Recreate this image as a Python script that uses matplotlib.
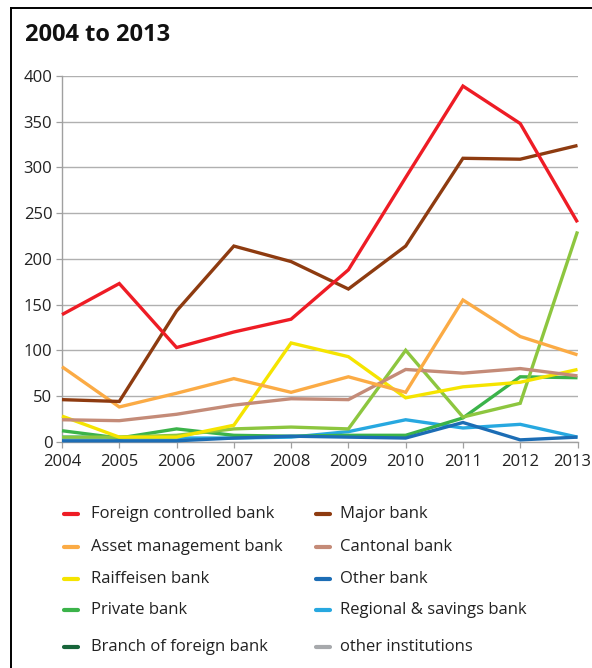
import matplotlib
matplotlib.use("Agg")
import matplotlib.pyplot as plt
import matplotlib.transforms as mtransforms
from matplotlib.lines import Line2D

years = [2004, 2005, 2006, 2007, 2008, 2009, 2010, 2011, 2012, 2013]

foreign_controlled = [139, 173, 103, 120, 134, 188, 289, 389, 348, 240]
major = [46, 44, 143, 214, 197, 167, 214, 310, 309, 324]
asset_management = [82, 38, 53, 69, 54, 71, 54, 155, 115, 95]
cantonal = [24, 23, 30, 40, 47, 46, 79, 75, 80, 72]
raiffeisen = [28, 5, 5, 18, 108, 93, 48, 60, 65, 79]
other_bank = [1, 1, 1, 4, 6, 5, 4, 21, 2, 5]
private = [12, 4, 14, 7, 6, 7, 7, 26, 71, 70]
regional_savings = [5, 5, 4, 4, 5, 11, 24, 15, 19, 5]
branch_foreign = [None] * 10
other_institutions = [None] * 10
further_series = [5, 5, 7, 14, 16, 14, 100, 27, 42, 230]

y_ticks = [0, 50, 100, 150, 200, 250, 300, 350, 400]

series = [
    ("other institutions", other_institutions, "#a7a9ac"),
    ("Branch of foreign bank", branch_foreign, "#17653a"),
    ("Regional & savings bank", regional_savings, "#27a8e0"),
    ("Private bank", private, "#3bb34a"),
    ("Other bank", other_bank, "#1c6db5"),
    ("_further", further_series, "#8dc63f"),
    ("Raiffeisen bank", raiffeisen, "#f5e400"),
    ("Cantonal bank", cantonal, "#c48b78"),
    ("Asset management bank", asset_management, "#fbab45"),
    ("Major bank", major, "#8e3b10"),
    ("Foreign controlled bank", foreign_controlled, "#ee1c25"),
]

plt.rcParams["font.family"] = ["Open Sans", "DejaVu Sans"]

fig = plt.figure(figsize=(5.92, 6.68), dpi=100)
ax = fig.add_axes([62 / 592, 1 - 441.7 / 668, (577.5 - 62) / 592, (441.7 - 76) / 668])

colors = {}
for i, (name, vals, col) in enumerate(series):
    clean = [float("nan") if v is None else v for v in vals]
    ax.plot(years, clean, color=col, lw=2.4, solid_joinstyle="miter",
            solid_capstyle="butt", zorder=3 + i, clip_on=False)
    colors[name] = col

ax.set_xlim(2004, 2013)
ax.set_ylim(0, 400)
ax.set_xticks(years)
ax.set_yticks(y_ticks)
ax.tick_params(axis="both", labelsize=12, colors="#222222", length=4,
               width=0.9, pad=3)
ax.tick_params(axis="x", pad=5)
for lbl in ax.get_xticklabels() + ax.get_yticklabels():
    lbl.set_color("#222222")
ax.tick_params(axis="both", color="#a0a0a0")
ax.grid(axis="y", color="#b0b0b0", lw=1.0, zorder=1)
ax.set_axisbelow(True)
for side in ("top", "right"):
    ax.spines[side].set_visible(False)
for side in ("left", "bottom"):
    ax.spines[side].set_color("#a0a0a0")
    ax.spines[side].set_linewidth(1.0)

# keep the last year label inside the figure edge
last = ax.get_xticklabels()[-1]
last.set_transform(last.get_transform() +
                   mtransforms.ScaledTranslation(-5 / 100, 0, fig.dpi_scale_trans))

# Outer frame (left and top edges)
fig.add_artist(Line2D([11 / 592, 11 / 592], [0, 1 - 8 / 668], color="black",
                      lw=1.4, transform=fig.transFigure))
fig.add_artist(Line2D([11 / 592, 1], [1 - 8 / 668, 1 - 8 / 668], color="black",
                      lw=1.4, transform=fig.transFigure))

fig.text(25 / 592, 1 - 35 / 668, "2004 to 2013", fontsize=17, fontweight="bold",
         va="center", ha="left", color="#111111")

# Legend, two columns
col1 = ["Foreign controlled bank", "Asset management bank", "Raiffeisen bank",
        "Private bank", "Branch of foreign bank"]
col2 = ["Major bank", "Cantonal bank", "Other bank", "Regional & savings bank",
        "other institutions"]
rows_y = [514, 547, 579, 610, 647]
for names, hx, tx in ((col1, 64, 91), (col2, 316, 340)):
    for name, yy in zip(names, rows_y):
        yf = 1 - yy / 668
        fig.add_artist(Line2D([hx / 592, (hx + 14) / 592], [yf, yf],
                              color=colors[name], lw=3.0,
                              solid_capstyle="round",
                              transform=fig.transFigure))
        fig.text(tx / 592, yf, name, fontsize=12, va="center", ha="left",
                 color="#222222")

fig.savefig("out.png", dpi=100)
